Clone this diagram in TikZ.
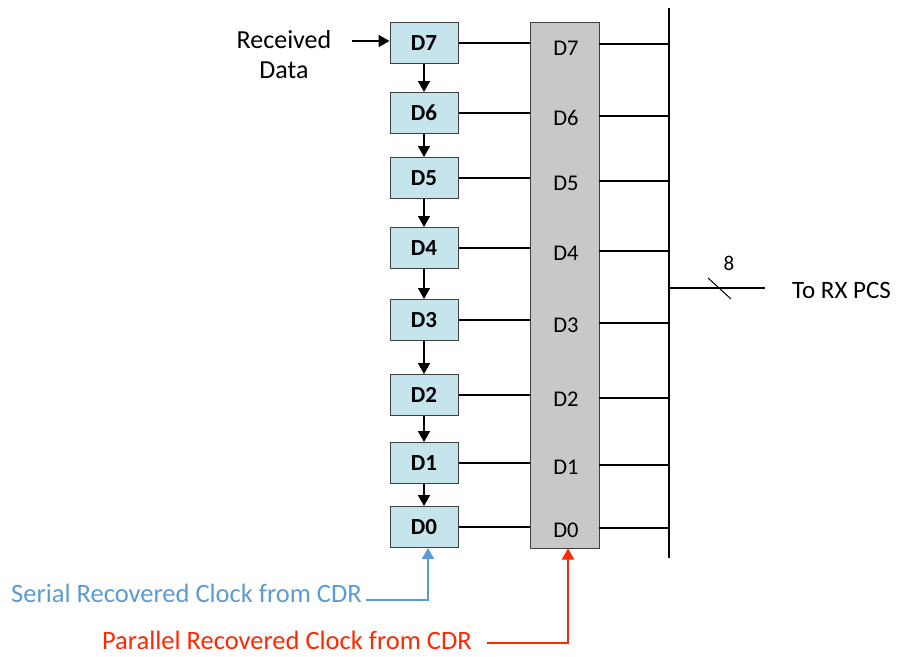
\documentclass[tikz,border=0pt]{standalone}
\usepackage{fontspec}
\setmainfont{Carlito}
\usetikzlibrary{arrows.meta}
\definecolor{boxblue}{RGB}{198,228,236}
\definecolor{reggray}{RGB}{200,200,200}
\definecolor{edgegray}{RGB}{64,64,64}
\definecolor{clkblue}{RGB}{91,155,213}
\definecolor{clkred}{RGB}{255,40,0}
\begin{document}
\begin{tikzpicture}[x=1pt,y=-1pt,
  sreg/.style={draw=edgegray, line width=1pt, fill=boxblue, minimum width=68pt, minimum height=41pt, inner sep=0pt, font=\fontsize{23}{27}\selectfont\bfseries},
  wire/.style={line width=1.5pt},
  arr/.style={line width=1.6pt, -{Triangle[length=11pt,width=12pt]}},
  plab/.style={font=\fontsize{22.5}{27}\selectfont, inner sep=0pt},
  txt/.style={font=\fontsize{26}{31}\selectfont, inner sep=0pt}]
\useasboundingbox (0,0) rectangle (901,656);
% parallel register
\node[draw=edgegray, line width=1pt, fill=reggray, minimum width=69pt, minimum height=526pt, inner sep=0pt] (reg) at (564.5,285) {};
% bus
\coordinate (bt) at (669,8);
\coordinate (bb) at (669,558);
\draw[line width=2.2pt] (bt) -- (bb);
% shift register cells
\foreach \n/\y/\yl/\yr in {7/43/48/44, 6/113/118/116, 5/178/183/181, 4/248/253/251, 3/320/325/323, 2/395/399/398, 1/463/467/465, 0/527/530/528}{
  \node[sreg] (s\n) at (424,\y) {D\n};
  \node[plab] (p\n) at (566,\yl) {D\n};
  \coordinate (rl\n) at (530,\y);
  \coordinate (rr\n) at (599,\yr);
  \coordinate (bus\n) at (669,\yr);
  \draw[wire] (s\n.east) -- (rl\n);
  \draw[wire] (rr\n) -- (bus\n);
}
\foreach \a/\b in {7/6,6/5,5/4,4/3,3/2,2/1,1/0}{
  \draw[arr] (s\a.south) -- (s\b.north);
}
% received data
\node[txt, align=center] (rx) at (284,55) {Received\\[-1pt]Data};
\coordinate (rxs) at (352,41);
\draw[arr] (rxs) -- (rxs -| s7.west);
% output
\coordinate (ob) at (669,288);
\coordinate (oe) at (765,288);
\draw[wire] (ob) -- (oe);
\coordinate (sl1) at (708,278);
\coordinate (sl2) at (731,299);
\draw[line width=1pt] (sl1) -- (sl2);
\node[font=\fontsize{21}{25}\selectfont, inner sep=0pt] (eight) at (729,263) {8};
\node[txt, anchor=west, font=\fontsize{25}{30}\selectfont] (pcs) at (792,290) {To RX PCS};
% clocks
\node[txt, anchor=base east, text=clkblue, font=\fontsize{26.5}{31}\selectfont] (sclk) at (362,602) {Serial Recovered Clock from CDR};
\coordinate (sc1) at (366,600);
\coordinate (sc2) at (428,600);
\draw[line width=2pt, clkblue, -{Triangle[length=11pt,width=12pt]}] (sc1) -- (sc2) -- (sc2 |- s0.south);
\node[txt, anchor=base east, text=clkred, font=\fontsize{26.5}{31}\selectfont] (pclk) at (472,649) {Parallel Recovered Clock from CDR};
\coordinate (pc1) at (487,643);
\coordinate (pc2) at (568,643);
\draw[line width=2pt, clkred, -{Triangle[length=11pt,width=12pt]}] (pc1) -- (pc2) -- (pc2 |- reg.south);
\end{tikzpicture}
\end{document}
